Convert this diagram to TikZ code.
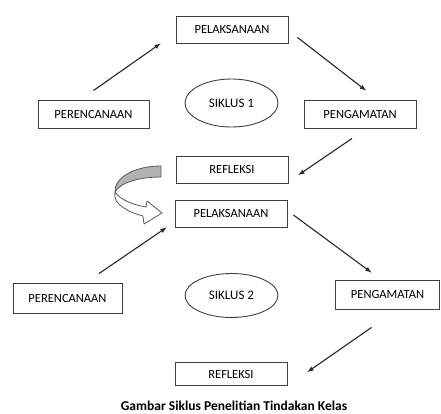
\documentclass[tikz,border=0pt]{standalone}
\usepackage{fontspec}
\setmainfont{Carlito}
\usetikzlibrary{arrows,shapes}
\tikzstyle{box}=[rectangle,draw=black!75,line width=0.9pt,minimum width=112pt,minimum height=27pt,inner sep=0pt,font=\fontsize{12.5}{14}\selectfont]
\tikzstyle{siklus}=[ellipse,draw=black!75,line width=0.9pt,minimum width=93pt,minimum height=47pt,inner sep=0pt,font=\fontsize{13}{15}\selectfont]
\tikzstyle{turn}=[draw=black!65,line width=0.8pt,line join=round]
\begin{document}
\begin{tikzpicture}[x=1pt,y=-1pt, >=latex, every edge/.style={draw=black!85,line width=1.1pt}]
            \useasboundingbox (0,0) rectangle (441,414);

            % SIKLUS 1 PART

            \node[box] (pel1) at (232,29.5) {PELAKSANAAN};
            \node[box,minimum width=111pt,minimum height=28pt] (per1) at (93.5,114) {PERENCANAAN};
            \node[siklus,minimum height=48pt] (sik1) at (231.5,103) {SIKLUS 1};
            \node[box,minimum height=28pt] (pen1) at (360,114) {PENGAMATAN};
            \node[box] (ref1) at (232,169.5) {REFLEKSI};

            \path[-latex] ([yshift=9pt]per1.north) edge ([xshift=-15pt]pel1.south west);
            \path[-latex] ([xshift=9pt,yshift=6pt]pel1.south east) edge ([xshift=6pt,yshift=9pt]pen1.north);
            \path[-latex] ([xshift=-8pt,yshift=-10pt]pen1.south) edge ([xshift=10pt,yshift=-5.5pt]ref1.east);

            % SIKLUS 2 PART

            \node[box] (pel2) at (231,213.5) {PELAKSANAAN};
            \node[box,minimum width=109pt,minimum height=30pt] (per2) at (67.5,298) {PERENCANAAN};
            \node[siklus,minimum height=44pt] (sik2) at (231.5,295.5) {SIKLUS 2};
            \node[box,minimum width=104pt,minimum height=29pt] (pen2) at (387.5,294.5) {PENGAMATAN};
            \node[box,minimum height=23pt] (ref2) at (231,374) {REFLEKSI};

            \path[-latex] ([xshift=31.5pt,yshift=9pt]per2.north) edge ([xshift=-8pt]pel2.south west);
            \path[-latex] ([xshift=6pt,yshift=-1.5pt]pel2.east) edge ([xshift=-16pt,yshift=7pt]pen2.north);
            \path[-latex] ([xshift=-16pt,yshift=-18pt]pen2.south) edge ([xshift=20pt,yshift=2pt]ref2.east);

            % Curved arrow between the cycles

            \filldraw[turn,fill=black!30] (161,166) -- (161,177)
                .. controls (138,177) and (120,183) .. (115,192)
                .. controls (114,178) and (134,166) .. (161,166) -- cycle;
            \filldraw[turn,fill=white] (115,192)
                .. controls (112,204) and (128,212) .. (143,216)
                -- (144,224) -- (162,213) -- (147,201) -- (146,207)
                .. controls (134,205) and (120,200) .. (115,192) -- cycle;

            % Caption

            \node[anchor=base,font=\fontsize{13.5}{16}\selectfont\bfseries] (cap) at (234,410) {Gambar Siklus Penelitian Tindakan Kelas};

        \end{tikzpicture}
\end{document}
